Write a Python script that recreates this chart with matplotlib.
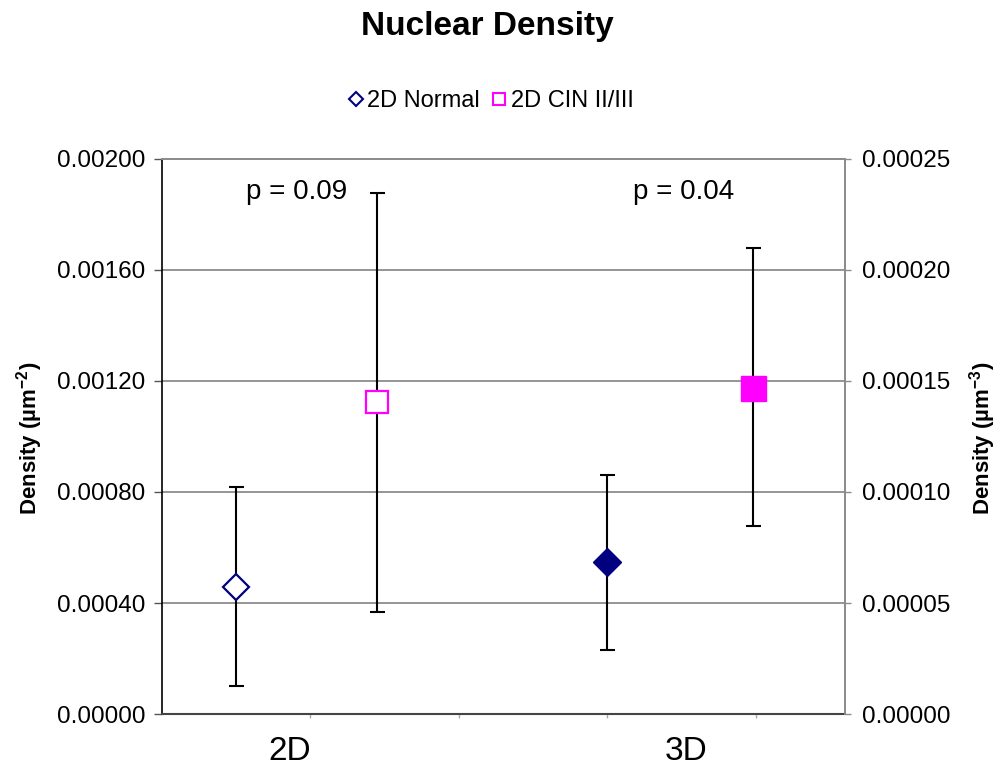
import matplotlib
matplotlib.use("Agg")
import matplotlib.pyplot as plt
from matplotlib.lines import Line2D
from matplotlib.ticker import FormatStrFormatter, FixedLocator
from matplotlib.transforms import blended_transform_factory

plt.rcParams['font.family'] = ['Liberation Sans', 'DejaVu Sans']
plt.rcParams['mathtext.fontset'] = 'custom'
plt.rcParams['mathtext.rm'] = 'Liberation Sans'
plt.rcParams['mathtext.bf'] = 'Liberation Sans:bold'
plt.rcParams['mathtext.it'] = 'Liberation Sans:italic'

# --- data -------------------------------------------------------------
series_names = ["2D Normal", "2D CIN II/III"]
dims = ["2D", "3D"]
p_values = ["p = 0.09", "p = 0.04"]

# 2D densities (um^-2), left axis
d2_mean = [0.000457, 0.001124]
d2_low = [0.000101, 0.000369]
d2_high = [0.000818, 0.001877]

# 3D densities (um^-3), right axis
d3_mean = [0.0000683, 0.0001468]
d3_low = [0.0000288, 0.0000847]
d3_high = [0.0001077, 0.0002098]

left_ticks = [0.0, 0.0004, 0.0008, 0.0012, 0.0016, 0.0020]
right_ticks = [0.0, 0.00005, 0.00010, 0.00015, 0.00020, 0.00025]

# --- layout -----------------------------------------------------------
x2 = [0.5, 1.45]
x3 = [3.0, 3.98]
dim_label_x = [0.86, 3.53]
p_label_x = [0.91, 3.51]

navy = "#000080"
magenta = "#FF00FF"
grid_col = "#8c8c8c"

fig = plt.figure(figsize=(10, 7.68), dpi=100)
ax = fig.add_axes([0.162, 0.0703, 0.683, 0.7227])
ax2 = ax.twinx()

ax.set_xlim(0, 4.6)
ax.set_ylim(0, 0.0020)
ax2.set_ylim(0, 0.00025)

# gridlines
ax.yaxis.set_major_locator(FixedLocator(left_ticks))
ax.grid(axis='y', color=grid_col, linewidth=1.3)
ax.set_axisbelow(True)

def yerr(mean, low, high):
    return [[m - l for m, l in zip(mean, low)], [h - m for m, h in zip(mean, high)]]

err_kw = dict(fmt='none', ecolor='black', elinewidth=1.5, capsize=5.4, capthick=1.5, zorder=3)

ax.errorbar(x2, d2_mean, yerr=yerr(d2_mean, d2_low, d2_high), **err_kw)
ax.plot(x2[0], d2_mean[0], linestyle='none', marker='D', ms=13, mfc='white',
        mec=navy, mew=1.6, zorder=4)
ax.plot(x2[1], d2_mean[1], linestyle='none', marker='s', ms=16, mfc='white',
        mec=magenta, mew=1.6, zorder=4)

ax2.errorbar(x3, d3_mean, yerr=yerr(d3_mean, d3_low, d3_high), **err_kw)
ax2.plot(x3[0], d3_mean[0], linestyle='none', marker='D', ms=14, mfc=navy,
         mec=navy, mew=1, zorder=4)
ax2.plot(x3[1], d3_mean[1], linestyle='none', marker='s', ms=18, mfc=magenta,
         mec=magenta, mew=1, zorder=4)

# axes styling
for a in (ax, ax2):
    for s in a.spines.values():
        s.set_color(grid_col)
        s.set_linewidth(1.3)
ax.spines['left'].set_color('black')
ax.spines['left'].set_linewidth(1.2)
ax.spines['bottom'].set_color('#444444')
ax.spines['bottom'].set_linewidth(1.5)
ax2.spines['left'].set_visible(False)
ax2.spines['bottom'].set_visible(False)

ax.yaxis.set_major_formatter(FormatStrFormatter('%.5f'))
ax2.yaxis.set_major_locator(FixedLocator(right_ticks))
ax2.yaxis.set_major_formatter(FormatStrFormatter('%.5f'))
ax.tick_params(axis='y', labelsize=17.5, length=6, width=1, color='#555555', pad=6)
ax2.tick_params(axis='y', labelsize=17.5, length=4, width=1, color=grid_col, pad=8)

ax.set_xticks([1, 2, 3, 4])
ax.set_xticklabels([])
ax.tick_params(axis='x', length=3, width=1, color='#aaaaaa')

trans = blended_transform_factory(ax.transData, fig.transFigure)
for xl, lab in zip(dim_label_x, dims):
    ax.text(xl, 1 - 752 / 768, lab, transform=trans, ha='center', va='center', fontsize=24)

for xp, pv in zip(p_label_x, p_values):
    ax.text(xp, 1 - 192 / 768, pv, transform=trans, ha='center', va='center', fontsize=20)

fig.text(0.03, 1 - 438 / 768, r'$\mathbf{Density\ (µm^{-2})}$', rotation=90,
         ha='center', va='center', fontsize=16)
fig.text(0.983, 1 - 438 / 768, r'$\mathbf{Density\ (µm^{-3})}$', rotation=90,
         ha='center', va='center', fontsize=16)

fig.text(0.487, 1 - 27 / 768, "Nuclear Density", ha='center', va='center',
         fontsize=24, fontweight='bold')

handles = [
    Line2D([], [], linestyle='none', marker='D', ms=7.5, mfc='white', mec=navy, mew=1.5),
    Line2D([], [], linestyle='none', marker='s', ms=9, mfc='white', mec=magenta, mew=1.5),
]
fig.legend(handles, series_names, loc='center', bbox_to_anchor=(0.49, 1 - 101 / 768),
           ncol=2, frameon=False, fontsize=17, handlelength=0.8, handletextpad=0.1,
           columnspacing=0.4, borderaxespad=0)

fig.savefig("out.png", dpi=100)
